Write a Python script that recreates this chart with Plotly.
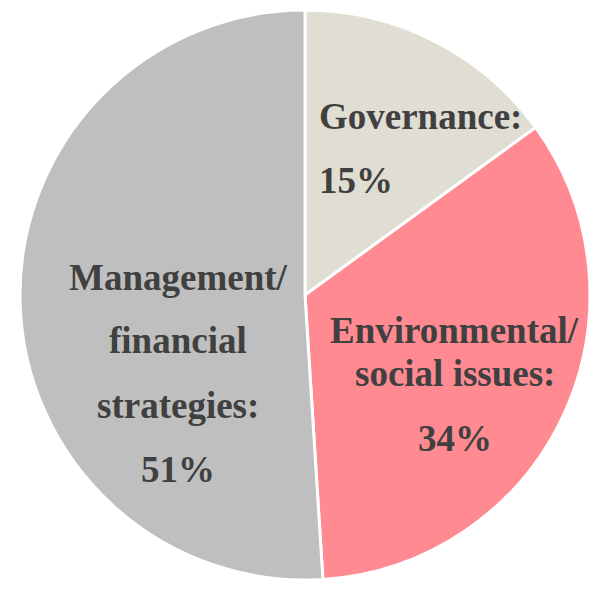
import plotly.graph_objects as go

# Share of topics, clockwise from 12 o'clock
label_lines = [
    ["Governance:"],
    ["Environmental/", "social issues:"],
    ["Management/", "financial", "strategies:"],
]
values = [15, 34, 51]
colors = ["#E0DDD3", "#FF8A92", "#BFBFBF"]

W, H = 607, 589
FONT = "Liberation Serif"
TEXT_COLOR = "#404040"

labels = [" ".join(lines).replace("/ ", "/") for lines in label_lines]

fig = go.Figure(
    go.Pie(
        labels=labels,
        values=values,
        sort=False,
        direction="clockwise",
        rotation=0,
        marker=dict(colors=colors, line=dict(color="white", width=3)),
        textinfo="none",
        hoverinfo="label+percent",
        showlegend=False,
        domain=dict(x=[20 / W, 590 / W], y=[9 / H, 579 / H]),
    )
)

# Label placement per slice: (x in px, anchor, y of each line in px)
placements = [
    (317, "left", [117, 180]),
    (455, "center", [330, 373, 438]),
    (178, "center", [277, 340, 405, 469]),
]

annotations = []
for lines, val, (px, anchor, ys) in zip(label_lines, values, placements):
    texts = lines + [f"{val}%"]
    for t, py in zip(texts, ys):
        annotations.append(
            dict(
                text=f"<b>{t}</b>",
                x=px / W,
                y=1 - py / H,
                xref="paper",
                yref="paper",
                xanchor=anchor,
                yanchor="middle",
                showarrow=False,
                font=dict(family=FONT, size=37, color=TEXT_COLOR),
            )
        )

fig.update_layout(
    width=W,
    height=H,
    margin=dict(l=0, r=0, t=0, b=0),
    paper_bgcolor="white",
    plot_bgcolor="white",
    annotations=annotations,
)

fig.write_html("out.html")
